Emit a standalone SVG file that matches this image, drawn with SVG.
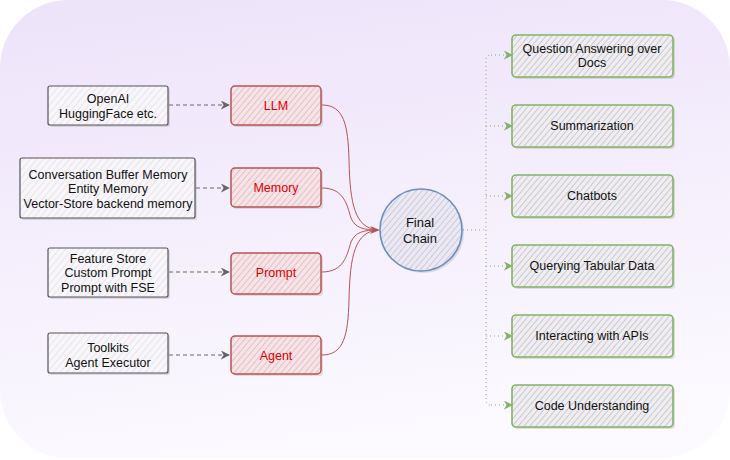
<svg xmlns="http://www.w3.org/2000/svg" width="730" height="460" viewBox="0 0 730 460">
<defs>
<linearGradient id="bg" x1="0.3" y1="0" x2="0.5" y2="1">
<stop offset="0" stop-color="#eee4fa"/>
<stop offset="1" stop-color="#fcfaff"/>
</linearGradient>
<pattern id="hGrey" width="4.5" height="4.5" patternUnits="userSpaceOnUse" patternTransform="rotate(40)">
<rect width="4.5" height="4.5" fill="#efedf2"/>
<line x1="0" y1="0" x2="0" y2="4.5" stroke="#a9a9a9" stroke-width="1"/>
</pattern>
<pattern id="hLight" width="5" height="5" patternUnits="userSpaceOnUse" patternTransform="rotate(40)">
<rect width="5" height="5" fill="#f8f6fa"/>
<line x1="0" y1="0" x2="0" y2="5" stroke="#d8d6da" stroke-width="1"/>
</pattern>
<pattern id="hRed" width="4.5" height="4.5" patternUnits="userSpaceOnUse" patternTransform="rotate(40)">
<rect width="4.5" height="4.5" fill="#f5e3e7"/>
<line x1="0" y1="0" x2="0" y2="4.5" stroke="#d7a0a3" stroke-width="1"/>
</pattern>
<pattern id="hBlue" width="4.5" height="4.5" patternUnits="userSpaceOnUse" patternTransform="rotate(40)">
<rect width="4.5" height="4.5" fill="#ebe8f3"/>
<line x1="0" y1="0" x2="0" y2="4.5" stroke="#aeb1c0" stroke-width="1"/>
</pattern>
<marker id="aGrey" viewBox="0 0 10 10" refX="9" refY="5" markerWidth="9" markerHeight="9" markerUnits="userSpaceOnUse" orient="auto">
<path d="M0,0 L10,5 L0,10 L3,5 Z" fill="#666"/>
</marker>
<marker id="aGreen" viewBox="0 0 10 10" refX="9" refY="5" markerWidth="9" markerHeight="9" markerUnits="userSpaceOnUse" orient="auto">
<path d="M0,0 L10,5 L0,10 L3,5 Z" fill="#82b366"/>
</marker>
</defs>
<style>
text{font-family:"Liberation Sans",Arial,sans-serif;font-size:12.5px;fill:#111;text-anchor:middle}
.red text{fill:#e00000}
.shadow{fill:#8a8a8a;opacity:0.25}
.src{fill:url(#hLight);stroke:#555;stroke-width:1.2}
.mod{fill:url(#hRed);stroke:#b85450;stroke-width:1.5}
.use{fill:url(#hGrey);stroke:#82b366;stroke-width:1.6}
.dash{fill:none;stroke:#666;stroke-width:1;stroke-dasharray:4 3;marker-end:url(#aGrey)}
.curve{fill:none;stroke:#b85450;stroke-width:1}
.dot{fill:none;stroke:#82b366;stroke-width:1;stroke-dasharray:1 3}
.dotA{fill:none;stroke:#82b366;stroke-width:1;stroke-dasharray:1 3;marker-end:url(#aGreen)}
</style>
<rect x="0" y="0" width="730" height="458" rx="68" fill="url(#bg)"/>

<g id="connectors">
<path class="dash" d="M169,105 H229"/>
<path class="dash" d="M196,188 H229"/>
<path class="dash" d="M169,272 H229"/>
<path class="dash" d="M169,355 H229"/>
<path class="curve" d="M322,105 C344,105 348,125 349,160 C350,205 355,228 378,230"/>
<path class="curve" d="M322,188 C344,188 347,205 351,218 C355,228 364,230 378,230"/>
<path class="curve" d="M322,272 C344,272 347,255 351,242 C355,232 364,230 378,230"/>
<path class="curve" d="M322,355 C344,355 348,335 349,300 C350,255 355,232 378,230"/>
<path d="M370,226 L380,230 L370,234 L373,230 Z" fill="#b85450"/>
<path class="dot" d="M463,230 H481 Q486,230 486,225 V60 Q486,55 491,55"/>
<path class="dot" d="M486,230 V400 Q486,405 491,405"/>
<path class="dotA" d="M491,55 H512"/>
<path class="dotA" d="M486,126 H512"/>
<path class="dotA" d="M486,196 H512"/>
<path class="dotA" d="M486,266 H512"/>
<path class="dotA" d="M486,336 H512"/>
<path class="dotA" d="M491,405 H512"/>
</g>

<g id="src-openai">
<rect class="shadow" x="50" y="88" width="120" height="39" rx="2"/>
<rect class="src" x="48" y="86" width="120" height="39" rx="2"/>
<text x="108" y="103">OpenAI</text>
<text x="108" y="118">HuggingFace etc.</text>
</g>
<g id="src-memory">
<rect class="shadow" x="22" y="160" width="175" height="60" rx="2"/>
<rect class="src" x="20" y="158" width="175" height="60" rx="2"/>
<text x="108" y="179">Conversation Buffer Memory</text>
<text x="108" y="193">Entity Memory</text>
<text x="108" y="208">Vector-Store backend memory</text>
</g>
<g id="src-prompt">
<rect class="shadow" x="50" y="250" width="120" height="49" rx="2"/>
<rect class="src" x="48" y="248" width="120" height="49" rx="2"/>
<text x="108" y="263">Feature Store</text>
<text x="108" y="277">Custom Prompt</text>
<text x="108" y="292">Prompt with FSE</text>
</g>
<g id="src-agent">
<rect class="shadow" x="50" y="335" width="120" height="40" rx="2"/>
<rect class="src" x="48" y="333" width="120" height="40" rx="2"/>
<text x="108" y="352">Toolkits</text>
<text x="108" y="367">Agent Executor</text>
</g>

<g id="llm" class="red">
<rect class="shadow" x="233" y="88" width="90" height="39" rx="4"/>
<rect class="mod" x="231" y="86" width="90" height="39" rx="4"/>
<text x="276" y="110">LLM</text>
</g>
<g id="memory" class="red">
<rect class="shadow" x="233" y="170" width="90" height="39" rx="4"/>
<rect class="mod" x="231" y="168" width="90" height="39" rx="4"/>
<text x="276" y="192">Memory</text>
</g>
<g id="prompt" class="red">
<rect class="shadow" x="233" y="255" width="90" height="41" rx="4"/>
<rect class="mod" x="231" y="253" width="90" height="41" rx="4"/>
<text x="276" y="277">Prompt</text>
</g>
<g id="agent" class="red">
<rect class="shadow" x="233" y="338" width="90" height="38" rx="4"/>
<rect class="mod" x="231" y="336" width="90" height="38" rx="4"/>
<text x="276" y="360">Agent</text>
</g>

<g id="final-chain">
<circle class="shadow" cx="423" cy="232" r="41"/>
<circle cx="421" cy="230" r="41" fill="url(#hBlue)" stroke="#6c8ebf" stroke-width="1.6"/>
<text x="420" y="227" style="font-size:13px">Final</text>
<text x="420" y="243" style="font-size:13px">Chain</text>
</g>

<g id="qa-docs">
<rect class="shadow" x="514" y="37" width="161" height="42" rx="4"/>
<rect class="use" x="512" y="35" width="161" height="42" rx="4"/>
<text x="592" y="53">Question Answering over</text>
<text x="592" y="67">Docs</text>
</g>
<g id="summarization">
<rect class="shadow" x="514" y="107" width="161" height="42" rx="4"/>
<rect class="use" x="512" y="105" width="161" height="42" rx="4"/>
<text x="592" y="130">Summarization</text>
</g>
<g id="chatbots">
<rect class="shadow" x="514" y="177" width="161" height="42" rx="4"/>
<rect class="use" x="512" y="175" width="161" height="42" rx="4"/>
<text x="592" y="200">Chatbots</text>
</g>
<g id="tabular">
<rect class="shadow" x="514" y="247" width="161" height="42" rx="4"/>
<rect class="use" x="512" y="245" width="161" height="42" rx="4"/>
<text x="592" y="270">Querying Tabular Data</text>
</g>
<g id="apis">
<rect class="shadow" x="514" y="317" width="161" height="42" rx="4"/>
<rect class="use" x="512" y="315" width="161" height="42" rx="4"/>
<text x="592" y="340">Interacting with APIs</text>
</g>
<g id="code">
<rect class="shadow" x="514" y="387" width="161" height="42" rx="4"/>
<rect class="use" x="512" y="385" width="161" height="42" rx="4"/>
<text x="592" y="410">Code Understanding</text>
</g>
</svg>
